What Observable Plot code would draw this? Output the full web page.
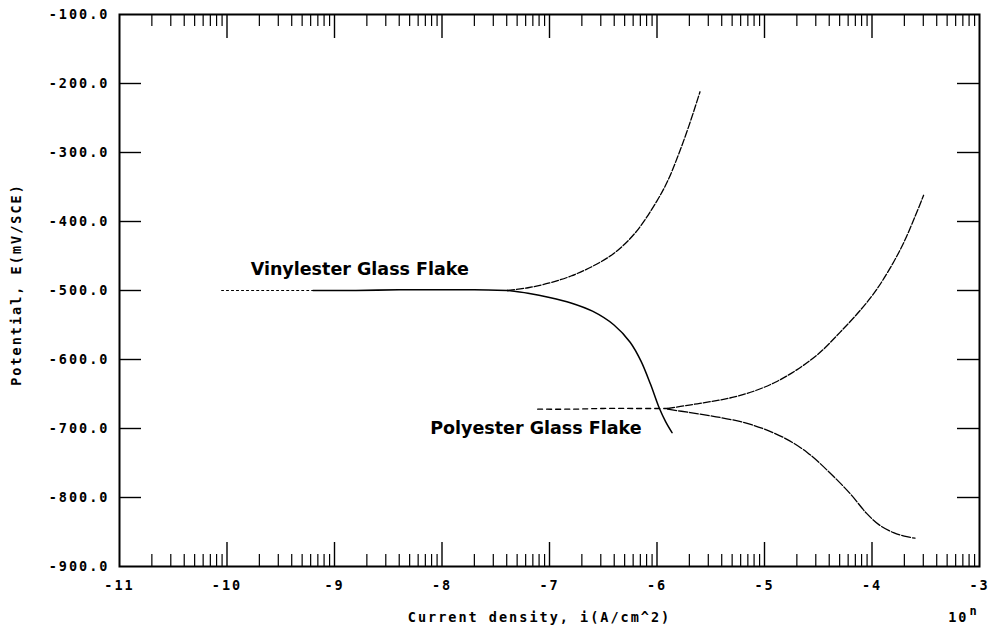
<!DOCTYPE html>
<html>
<head>
<meta charset="utf-8">
<script src="https://cdn.jsdelivr.net/npm/d3@7"></script>
<script src="https://cdn.jsdelivr.net/npm/@observablehq/plot@0.6"></script>
<style>
  body { margin: 0; background: #fff; }
  #chart svg { display: block; letter-spacing: 2px; }
  #chart g[font-family="DejaVu Sans"] { letter-spacing: 0; }
</style>
</head>
<body>
<div id="chart"></div>
<script>
// ---- axes ----
const xDomain = [-11, -3];
const yDomain = [-900, -100];
const xTickValues = [-11, -10, -9, -8, -7, -6, -5, -4, -3];
const yTickValues = [-900, -800, -700, -600, -500, -400, -300, -200, -100];
const yInnerTicks = [-800, -700, -600, -500, -400, -300, -200];
const xTitle = "Current density, i(A/cm^2)";
const yTitle = "Potential, E(mV/SCE)";
const expBase = "10";
const expSup = "n";

// ---- Vinylester glass flake (log10 i, E mV) ----
const vinylFlatDotX = [-10.05, -9.6, -9.2];
const vinylFlatDotE = [-500, -500, -500];
const vinylFlatX = [-9.2, -8.8, -8.4, -8.0, -7.7, -7.39];
const vinylFlatE = [-500, -500, -499, -499, -499, -500];
const vinylAnodicX = [-7.39, -7.2, -7.0, -6.8, -6.6, -6.4, -6.2, -6.0, -5.9, -5.8, -5.7, -5.6];
const vinylAnodicE = [-500, -496, -489, -479, -465, -446, -416, -370, -341, -303, -260, -212];
const vinylCathX = [-7.39, -7.2, -7.0, -6.8, -6.6, -6.4, -6.25, -6.15, -6.06, -5.98, -5.92, -5.86];
const vinylCathE = [-500, -504, -510, -518, -530, -550, -575, -602, -636, -670, -690, -706];

// ---- Polyester glass flake ----
const polyFlatX = [-7.11, -6.8, -6.5, -6.2, -5.90];
const polyFlatE = [-672, -672, -671, -671, -671];
const polyAnodicX = [-5.90, -5.70, -5.50, -5.30, -5.10, -4.90, -4.70, -4.50, -4.30, -4.10, -3.95, -3.80, -3.70, -3.60, -3.52];
const polyAnodicE = [-671, -666, -661, -655, -646, -633, -615, -592, -561, -527, -497, -459, -429, -393, -362];
const polyCathX = [-5.90, -5.69, -5.45, -5.20, -5.00, -4.80, -4.60, -4.40, -4.20, -4.05, -3.93, -3.80, -3.70, -3.60];
const polyCathE = [-672, -677, -683, -691, -701, -715, -735, -763, -795, -823, -840, -851, -856, -859];

// ---- curve labels ----
const labelText = ["Vinylester Glass Flake", "Polyester Glass Flake"];
const labelX = [-9.78, -8.11];
const labelE = [-470, -700];

// ---- build ----
const W = 990, H = 634;
const mL = 119, mR = 11, mT = 14, mB = 68;
const pxPerMV = (H - mT - mB) / (yDomain[1] - yDomain[0]);
const pxPerDec = (W - mL - mR) / (xDomain[1] - xDomain[0]);
const majorLenMV = 24 / pxPerMV, minorLenMV = 12 / pxPerMV;
const yTickLenDec = 22 / pxPerDec;

const pts = (xs, es) => xs.map((x, i) => ({x, e: es[i]}));

const majorX = xTickValues.slice(1, -1);
const minorX = [];
for (let d = xDomain[0]; d < xDomain[1]; d++) {
  for (let k = 2; k <= 9; k++) minorX.push(d + Math.log10(k));
}
const yBot = yDomain[0], yTop = yDomain[1];
const xL = xDomain[0], xR = xDomain[1];

const lineOpts = {x: "x", y: "e", stroke: "black", strokeWidth: 1.3, curve: "catmull-rom"};

const chart = Plot.plot({
  width: W, height: H,
  marginLeft: mL, marginRight: mR, marginTop: mT, marginBottom: mB,
  x: {domain: xDomain},
  y: {domain: yDomain},
  style: {fontFamily: "DejaVu Sans Mono", fontSize: "13.5px", fontWeight: "bold", background: "white", color: "black"},
  marks: [
    // ticks on bottom and top
    Plot.ruleX(majorX, {x: d => d, y1: () => yBot, y2: () => yBot + majorLenMV, stroke: "black", strokeWidth: 1.4}),
    Plot.ruleX(minorX, {x: d => d, y1: () => yBot, y2: () => yBot + minorLenMV, stroke: "black", strokeWidth: 1.2}),
    Plot.ruleX(majorX, {x: d => d, y1: () => yTop, y2: () => yTop - majorLenMV, stroke: "black", strokeWidth: 1.4}),
    Plot.ruleX(minorX, {x: d => d, y1: () => yTop, y2: () => yTop - minorLenMV, stroke: "black", strokeWidth: 1.2}),
    // ticks left and right
    Plot.ruleY(yInnerTicks, {y: d => d, x1: () => xL, x2: () => xL + yTickLenDec, stroke: "black", strokeWidth: 1.4}),
    Plot.ruleY(yInnerTicks, {y: d => d, x1: () => xR, x2: () => xR - yTickLenDec, stroke: "black", strokeWidth: 1.4}),
    Plot.frame({stroke: "black", strokeWidth: 2}),
    Plot.axisX(xTickValues, {anchor: "bottom", tickSize: 0, tickPadding: 14, tickFormat: d => String(d), label: null}),
    Plot.axisY(yTickValues, {anchor: "left", tickSize: 0, tickPadding: 10, tickFormat: d => d.toFixed(1), label: null}),
    // curves
    Plot.line(pts(vinylFlatDotX, vinylFlatDotE), {...lineOpts, strokeWidth: 1.1, strokeDasharray: "2,3"}),
    Plot.line(pts(vinylFlatX, vinylFlatE), {...lineOpts, strokeWidth: 1.6}),
    Plot.line(pts(vinylAnodicX, vinylAnodicE), {...lineOpts, strokeDasharray: "7,2"}),
    Plot.line(pts(vinylCathX, vinylCathE), {...lineOpts, strokeWidth: 1.5}),
    Plot.line(pts(polyFlatX, polyFlatE), {...lineOpts, strokeDasharray: "5,4"}),
    Plot.line(pts(polyAnodicX, polyAnodicE), {...lineOpts, strokeDasharray: "7,2"}),
    Plot.line(pts(polyCathX, polyCathE), {...lineOpts, strokeDasharray: "9,2"}),
    // labels
    Plot.text(labelText, {x: (d, i) => labelX[i], y: (d, i) => labelE[i], text: d => d, textAnchor: "start",
      fontFamily: "DejaVu Sans", fontWeight: "bold", fontSize: 17.5, fill: "black"}),
    // titles
    Plot.text([xTitle], {frameAnchor: "bottom", textAnchor: "middle", dx: -10, dy: 55, text: d => d, fill: "black"}),
    Plot.text([yTitle], {frameAnchor: "left", textAnchor: "middle", dx: -103, dy: -6, rotate: -90, text: d => d, fill: "black"}),
    Plot.text([expBase], {frameAnchor: "bottom-right", textAnchor: "end", dx: -11, dy: 55, text: d => d, fill: "black"}),
    Plot.text([expSup], {frameAnchor: "bottom-right", textAnchor: "start", dx: -10, dy: 48, text: d => d, fill: "black", fontSize: 12})
  ]
});
document.getElementById("chart").appendChild(chart);
</script>
</body>
</html>
